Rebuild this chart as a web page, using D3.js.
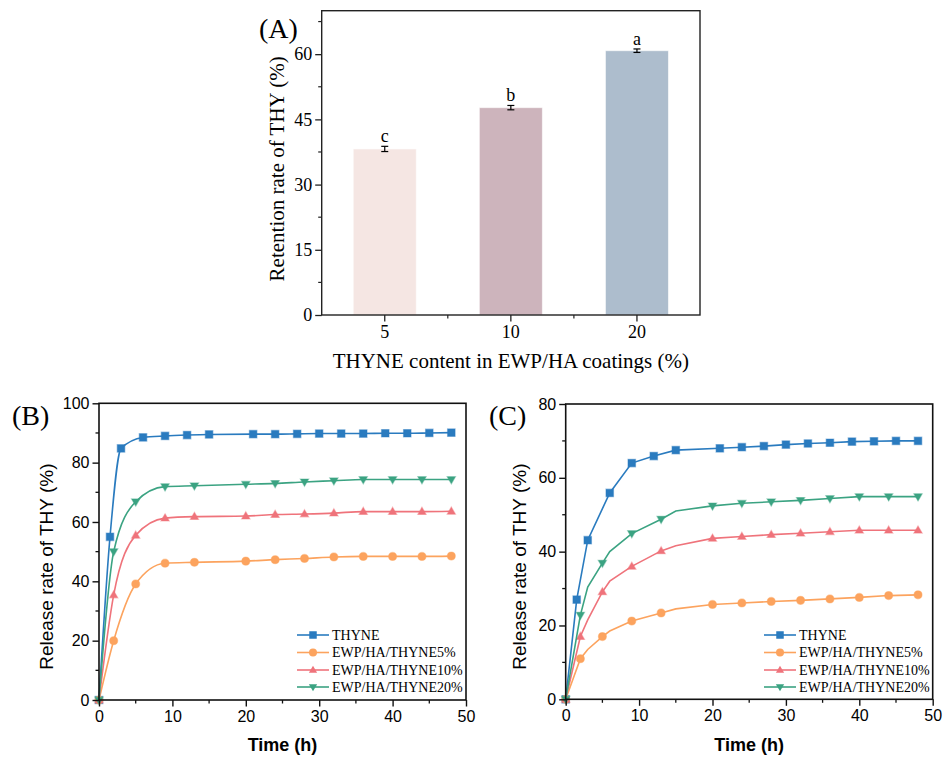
<!DOCTYPE html>
<html><head><meta charset="utf-8">
<script src="https://cdn.jsdelivr.net/npm/d3@7"></script>
<style>body{margin:0;background:#fff}svg{display:block}</style>
</head><body>
<svg id="c" width="943" height="758"></svg>
<script>
// ---- Panel A data ----
const catA = ["5", "10", "20"];
const retention = [38.2, 47.7, 60.8];
const retentionErr = [0.6, 0.5, 0.4];
const sigLetters = ["c", "b", "a"];
const barColors = ["#f5e6e3", "#cdb4bc", "#adbdcd"];
const ticksA = [0, 15, 30, 45, 60];

// ---- Panel B data ----
const timeB_thyne = [0, 1.5, 3, 6, 9, 12, 15, 21, 24, 27, 30, 33, 36, 39, 42, 45, 48];
const relB_thyne = [0, 55, 84.8, 88.5, 89, 89.3, 89.5, 89.6, 89.6, 89.7, 89.8, 89.8, 89.8, 89.9, 89.9, 90, 90.1];
const timeB_coat = [0, 2, 5, 9, 13, 20, 24, 28, 32, 36, 40, 44, 48];
const relB_5 = [0, 20, 39.1, 46.1, 46.4, 46.8, 47.3, 47.7, 48.2, 48.4, 48.4, 48.4, 48.5];
const relB_10 = [0, 35.4, 55.5, 61.3, 61.8, 62.0, 62.5, 62.7, 63.0, 63.5, 63.5, 63.5, 63.6];
const relB_20 = [0, 50, 66.8, 71.9, 72.2, 72.7, 73.0, 73.5, 73.9, 74.3, 74.3, 74.3, 74.3];

// ---- Panel C data ----
const timeC_thyne = [0, 1.5, 3, 6, 9, 12, 15, 21, 24, 27, 30, 33, 36, 39, 42, 45, 48];
const relC_thyne = [0, 27, 43.1, 55.9, 64.0, 65.9, 67.5, 68.0, 68.3, 68.6, 69.0, 69.3, 69.5, 69.8, 69.9, 70.0, 70.0];
const timeC_coat = [0, 2, 3, 5, 6, 9, 13, 15, 20, 24, 28, 32, 36, 40, 44, 48];
const markC_coat = [1, 1, 0, 1, 0, 1, 1, 0, 1, 1, 1, 1, 1, 1, 1, 1];
const relC_5 = [0, 11, 13.5, 17, 18.5, 21.2, 23.4, 24.5, 25.7, 26.1, 26.5, 26.8, 27.2, 27.6, 28.1, 28.3];
const relC_10 = [0, 17, 21.5, 29.1, 32, 36.0, 40.2, 41.6, 43.6, 44.1, 44.6, 45.0, 45.4, 45.8, 45.8, 45.8];
const relC_20 = [0, 22.8, 30.4, 36.9, 40.0, 44.9, 48.8, 51.0, 52.4, 53.1, 53.5, 53.9, 54.4, 54.9, 54.9, 54.9];

const seriesNames = ["THYNE", "EWP/HA/THYNE5%", "EWP/HA/THYNE10%", "EWP/HA/THYNE20%"];
const seriesColors = ["#2a7bbf", "#fca35e", "#ef737b", "#3ba382"];
const seriesSymbols = ["square", "circle", "triangle", "triangleDown"];
const ticksX = [0, 10, 20, 30, 40, 50];

const SERIF = "'Liberation Serif', 'Times New Roman', serif";
const SANS = "'Liberation Sans', Arial, sans-serif";
const svg = d3.select("#c");

// ================= Panel A =================
(function () {
  const L = 321.7, R = 700, T = 10.7, B = 315;
  const x = d3.scaleBand().domain(catA).range([L, R]).paddingInner(0.5).paddingOuter(0.25);
  const y = d3.scaleLinear().domain([0, 70]).range([B, T]);
  const g = svg.append("g");
  g.selectAll("rect.bar").data(catA).join("rect")
    .attr("x", d => x(d)).attr("width", x.bandwidth())
    .attr("y", (d, i) => y(retention[i])).attr("height", (d, i) => B - y(retention[i]))
    .attr("fill", (d, i) => barColors[i]).attr("stroke", "#fff").attr("stroke-opacity", 0.6).attr("stroke-width", 1);
  catA.forEach((d, i) => {
    const cx = x(d) + x.bandwidth() / 2;
    const y1 = y(retention[i] + retentionErr[i]), y0 = y(retention[i] - retentionErr[i]);
    g.append("line").attr("x1", cx).attr("x2", cx).attr("y1", y1).attr("y2", y0).attr("stroke", "#000").attr("stroke-width", 1.2);
    [y1, y0].forEach(yy => g.append("line").attr("x1", cx - 3.5).attr("x2", cx + 3.5).attr("y1", yy).attr("y2", yy).attr("stroke", "#000").attr("stroke-width", 1.2));
    g.append("text").attr("x", cx).attr("y", y1 - 4).attr("text-anchor", "middle")
      .attr("font-family", SERIF).attr("font-size", 18).text(sigLetters[i]);
  });
  g.append("rect").attr("x", L).attr("y", T).attr("width", R - L).attr("height", B - T)
    .attr("fill", "none").attr("stroke", "#222").attr("stroke-width", 1.4);
  const ya = d3.axisLeft(y).tickValues(ticksA).tickSize(6.5).tickPadding(3);
  const yg = g.append("g").attr("transform", `translate(${L},0)`).call(ya);
  yg.select(".domain").remove();
  yg.selectAll("line").attr("stroke", "#222").attr("stroke-width", 1.3);
  yg.selectAll("text").attr("font-family", SERIF).attr("font-size", 18).attr("fill", "#000");
  const yMinor = d3.range(7.5, 70, 15);
  g.selectAll("line.ymA").data(yMinor).join("line").attr("x1", L - 3.5).attr("x2", L)
    .attr("y1", d => y(d)).attr("y2", d => y(d)).attr("stroke", "#222").attr("stroke-width", 1.2);
  const xa = d3.axisBottom(x).tickSize(6.5).tickPadding(4);
  const xg = g.append("g").attr("transform", `translate(0,${B})`).call(xa);
  xg.select(".domain").remove();
  xg.selectAll("line").attr("stroke", "#222").attr("stroke-width", 1.3);
  xg.selectAll("text").attr("font-family", SERIF).attr("font-size", 18).attr("fill", "#000");
  const xMinor = [0, 1].map(i => (x(catA[i]) + x(catA[i + 1]) + x.bandwidth()) / 2);
  g.selectAll("line.xmA").data(xMinor).join("line").attr("x1", d => d).attr("x2", d => d)
    .attr("y1", B).attr("y2", B + 3.5).attr("stroke", "#222").attr("stroke-width", 1.2);
  g.append("text").attr("transform", `translate(284,${(T + B) / 2 + 6}) rotate(-90)`).attr("text-anchor", "middle")
    .attr("font-family", SERIF).attr("font-size", 21).text("Retention rate of THY (%)");
  g.append("text").attr("x", (L + R) / 2).attr("y", 368).attr("text-anchor", "middle")
    .attr("font-family", SERIF).attr("font-size", 21).text("THYNE content in EWP/HA coatings (%)");
  g.append("text").attr("x", 259).attr("y", 38).attr("font-family", SERIF).attr("font-size", 28).text("(A)");
})();

// ================= Line panels =================
function symbolPath(kind, size) {
  const s = size;
  if (kind === "square") return d3.symbol(d3.symbolSquare, s * s)();
  if (kind === "circle") return d3.symbol(d3.symbolCircle, Math.PI * (s / 2) * (s / 2) * 1.15)();
  const h = s * 0.95, w = s * 1.1;
  if (kind === "triangle") return `M0,${-h * 0.6}L${w / 2},${h * 0.4}L${-w / 2},${h * 0.4}Z`;
  return `M0,${h * 0.6}L${w / 2},${-h * 0.4}L${-w / 2},${-h * 0.4}Z`;
}

function linePanel(opt) {
  const { L, R, T, B, ymax, yMajor, yMinor, series, curve, legendX, label, labelX, ytitleX } = opt;
  const x = d3.scaleLinear().domain([0, 50]).range([L, R]);
  const y = d3.scaleLinear().domain([0, ymax]).range([B, T]);
  const g = svg.append("g");
  const line = d3.line().x(d => x(d[0])).y(d => y(d[1])).curve(curve);
  series.forEach((s, k) => {
    const pts = s.t.map((t, i) => [t, s.v[i]]);
    g.append("path").attr("d", line(pts)).attr("fill", "none").attr("stroke", seriesColors[k]).attr("stroke-width", 1.6);
    const mpts = pts.filter((p, i) => !s.m || s.m[i]);
    g.selectAll(null).data(mpts).join("path")
      .attr("transform", d => `translate(${x(d[0])},${y(d[1])})`)
      .attr("d", symbolPath(seriesSymbols[k], 7.5))
      .attr("fill", seriesColors[k]).attr("stroke", seriesColors[k]).attr("stroke-opacity", 0.45).attr("stroke-width", 1.2);
  });
  g.append("rect").attr("x", L).attr("y", T).attr("width", R - L).attr("height", B - T)
    .attr("fill", "none").attr("stroke", "#111").attr("stroke-width", 1.6);
  const ya = d3.axisLeft(y).tickValues(yMajor).tickSize(6.5).tickPadding(3);
  const yg = g.append("g").attr("transform", `translate(${L},0)`).call(ya);
  yg.select(".domain").remove();
  yg.selectAll("line").attr("stroke", "#111").attr("stroke-width", 1.4);
  yg.selectAll("text").attr("font-family", SANS).attr("font-size", 16).attr("fill", "#000");
  g.selectAll(null).data(yMinor).join("line").attr("x1", L - 3.5).attr("x2", L)
    .attr("y1", d => y(d)).attr("y2", d => y(d)).attr("stroke", "#111").attr("stroke-width", 1.3);
  const xa = d3.axisBottom(x).tickValues(ticksX).tickSize(6.5).tickPadding(4);
  const xg = g.append("g").attr("transform", `translate(0,${B})`).call(xa);
  xg.select(".domain").remove();
  xg.selectAll("line").attr("stroke", "#111").attr("stroke-width", 1.4);
  xg.selectAll("text").attr("font-family", SANS).attr("font-size", 16).attr("fill", "#000");
  g.selectAll(null).data(d3.range(5, 50, 10)).join("line").attr("x1", d => x(d)).attr("x2", d => x(d))
    .attr("y1", B).attr("y2", B + 3.5).attr("stroke", "#111").attr("stroke-width", 1.3);
  g.append("text").attr("x", (L + R) / 2).attr("y", 751).attr("text-anchor", "middle")
    .attr("font-family", SANS).attr("font-weight", "bold").attr("font-size", 18).text("Time (h)");
  g.append("text").attr("transform", `translate(${ytitleX},${(T + B) / 2 + 15}) rotate(-90)`).attr("text-anchor", "middle")
    .attr("font-family", SANS).attr("font-size", 19).text("Release rate of THY (%)");
  g.append("text").attr("x", labelX).attr("y", 425).attr("font-family", SERIF).attr("font-size", 28).text(label);
  const ly = [635, 652.5, 670, 687];
  seriesNames.forEach((n, k) => {
    g.append("line").attr("x1", legendX).attr("x2", legendX + 32).attr("y1", ly[k]).attr("y2", ly[k])
      .attr("stroke", seriesColors[k]).attr("stroke-width", 1.6);
    g.append("path").attr("transform", `translate(${legendX + 16},${ly[k]})`).attr("d", symbolPath(seriesSymbols[k], 7.5))
      .attr("fill", seriesColors[k]);
    g.append("text").attr("x", legendX + 35).attr("y", ly[k] + 4.5).attr("font-family", SERIF).attr("font-size", 14).text(n);
  });
}

linePanel({
  L: 99, R: 466, T: 403.3, B: 700, ymax: 100,
  yMajor: [0, 20, 40, 60, 80, 100], yMinor: [10, 30, 50, 70, 90],
  series: [
    { t: timeB_thyne, v: relB_thyne },
    { t: timeB_coat, v: relB_5 },
    { t: timeB_coat, v: relB_10 },
    { t: timeB_coat, v: relB_20 }
  ],
  curve: d3.curveMonotoneX, legendX: 297, label: "(B)", labelX: 12, ytitleX: 53
});

linePanel({
  L: 565.7, R: 932.7, T: 404, B: 699.3, ymax: 80,
  yMajor: [0, 20, 40, 60, 80], yMinor: [10, 30, 50, 70],
  series: [
    { t: timeC_thyne, v: relC_thyne },
    { t: timeC_coat, v: relC_5, m: markC_coat },
    { t: timeC_coat, v: relC_10, m: markC_coat },
    { t: timeC_coat, v: relC_20, m: markC_coat }
  ],
  curve: d3.curveLinear, legendX: 764, label: "(C)", labelX: 489, ytitleX: 526
});
</script>
</body></html>
